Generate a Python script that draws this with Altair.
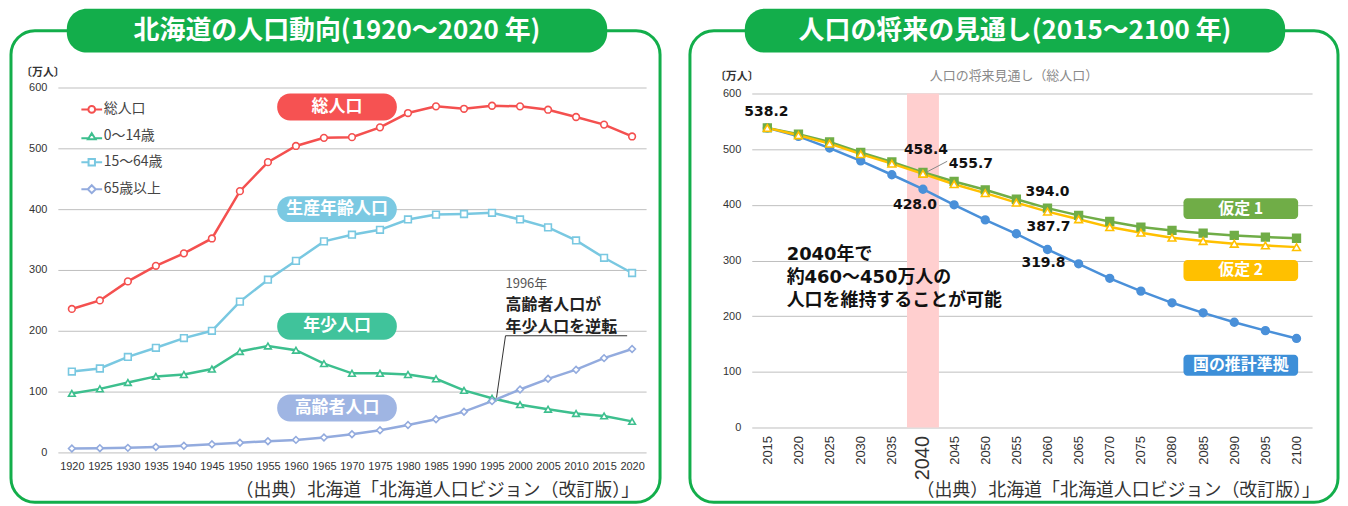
import altair as alt
import pandas as pd

CJK = "Noto Sans CJK JP"
NUM = "Liberation Sans"
NARROW = "Liberation Sans Narrow, Liberation Sans"
BOLDNUM = "DejaVu Sans, Noto Sans CJK JP"
GREEN = "#13ae4b"

# ---------------- left chart data ----------------
years_l = [1920, 1925, 1930, 1935, 1940, 1945, 1950, 1955, 1960, 1965, 1970,
           1975, 1980, 1985, 1990, 1995, 2000, 2005, 2010, 2015, 2020]
series_l = ["総人口", "0～14歳", "15～64歳", "65歳以上"]
total = [235.9, 249.9, 281.2, 306.8, 327.3, 351.8, 429.6, 477.3, 503.9, 517.2, 518.4,
         534.5, 558.0, 569.0, 565.0, 570.0, 569.0, 563.5, 551.5, 539.0, 519.5]
age0_14 = [97, 104.5, 115, 125, 128, 137, 166, 175, 168, 146, 130,
           130, 128, 121, 102, 89, 78.5, 71, 64, 60, 51]
age15_64 = [133, 138, 157, 172, 188, 200, 248, 284, 315, 347, 358,
            366, 383, 391, 392, 394, 383, 370, 348.5, 320, 295]
age65 = [6.5, 7, 7.5, 9, 11, 13.5, 16, 18.5, 20.6, 24.5, 30,
         36.4, 45, 54.4, 67, 84.3, 103.4, 121, 136, 155, 170]
colors_l = ["#f4504f", "#3dbf8e", "#79c8e1", "#93abde"]
pill_colors_l = ["#f65252", "#7bc9e2", "#40c39b", "#9fb5e3"]
pill_names_l = ["総人口", "生産年齢人口", "年少人口", "高齢者人口"]

# ---------------- right chart data ----------------
years_r = [2015, 2020, 2025, 2030, 2035, 2040, 2045, 2050, 2055, 2060,
           2065, 2070, 2075, 2080, 2085, 2090, 2095, 2100]
series_r = ["国の推計準拠", "仮定1", "仮定2"]
national = [538.2, 523, 502, 479, 454, 428.0, 400, 373, 348, 319.8,
            294, 268, 245, 224, 206, 189, 174, 160]
case1 = [538.2, 527, 513, 494, 477, 458.4, 442, 427, 410, 394.0,
         381, 370, 360, 354, 349, 345, 342, 340]
case2 = [538.2, 525, 510, 491, 474, 455.7, 437, 421, 404, 387.7,
         374, 360, 350, 341, 335, 330, 327, 324]
colors_r = ["#4a90d9", "#70ad47", "#ffc000"]
pill_names_r = ["仮定 1", "仮定 2", "国の推計準拠"]
pill_colors_r = ["#70ad47", "#ffc000", "#3d8fd8"]

rows = []
for name, vals in zip(series_l, [total, age0_14, age15_64, age65]):
    for yr, v in zip(years_l, vals):
        rows.append({"year": yr, "series": name, "value": v})
df_l = pd.DataFrame(rows)

rows = []
for name, vals in zip(series_r, [national, case1, case2]):
    for yr, v in zip(years_r, vals):
        rows.append({"year": yr, "series": name, "value": v})
df_r = pd.DataFrame(rows)

one = pd.DataFrame({"k": [0]})


def rect(x, x2, y, y2, **kw):
    return alt.Chart(one).mark_rect(**kw).encode(
        x=alt.value(x), x2=alt.value(x2), y=alt.value(y), y2=alt.value(y2))


def text(t, x, y, **kw):
    return alt.Chart(one).mark_text(text=t, **kw).encode(x=alt.value(x), y=alt.value(y))


def seg(x, y, x2, y2, **kw):
    return alt.Chart(one).mark_rule(**kw).encode(
        x=alt.value(x), y=alt.value(y), x2=alt.value(x2), y2=alt.value(y2))


# ================= LEFT =================
WL, HL = 590, 366
x_l = alt.X("year:O", scale=alt.Scale(type="point", padding=0.5),
            axis=alt.Axis(title=None, labelAngle=0, ticks=False, domain=False, grid=False,
                          labelFont=NARROW, labelFontSize=11, labelColor="#333",
                          labelPadding=8))
y_l = alt.Y("value:Q", scale=alt.Scale(domain=[0, 600], nice=False),
            axis=alt.Axis(title=None, values=[0, 100, 200, 300, 400, 500, 600],
                          ticks=False, domain=False, grid=True, gridColor="#bfbfbf",
                          labelFont=NUM, labelFontSize=11, labelColor="#333",
                          labelPadding=11))

stroke_scale_l = alt.Scale(domain=series_l, range=colors_l)
legend_paths = [
    "M-2.6,0H-0.85M0.85,0H2.6M0.85,0A0.85,0.85,0,1,1,-0.85,0A0.85,0.85,0,1,1,0.85,0Z",
    "M-2.6,0.45H-0.95M0.95,0.45H2.6M0,-0.8L0.95,0.75L-0.95,0.75Z",
    "M-2.6,0H-0.8M0.8,0H2.6M-0.8,-0.8H0.8V0.8H-0.8Z",
    "M-2.6,0H-1M1,0H2.6M0,-1L1,0L0,1L-1,0Z",
]

frame_l = rect(-47, 604, -57, 416, fill="transparent", stroke=GREEN, strokeWidth=3, cornerRadius=24)
pill_l = rect(9, 551, -79, -35, fill=GREEN, cornerRadius=20)
title_l = text("北海道の人口動向(1920～2020 年)", 280, -57, font=CJK, fontSize=26,
               fontWeight="bold", color="white", align="center", baseline="middle")
unit_l = text("〔万人〕", -15, -15, font=CJK, fontSize=11, fontWeight="bold",
              color="#333", align="center", baseline="middle")

lines_l = alt.Chart(df_l).mark_line(strokeWidth=2.5).encode(
    x=x_l, y=y_l, stroke=alt.Stroke("series:N", scale=stroke_scale_l, legend=None))
points_l = alt.Chart(df_l).mark_point(filled=True, fill="white", size=45, strokeWidth=1.6,
                                      opacity=1).encode(
    x=x_l, y=y_l,
    stroke=alt.Stroke("series:N", scale=stroke_scale_l, legend=None),
    shape=alt.Shape("series:N", scale=alt.Scale(domain=series_l,
                                                range=["circle", "triangle-up", "square", "diamond"]),
                    legend=None))
leg = alt.Legend(title=None, orient="none", legendX=27, legendY=15, labelFont=CJK,
                 labelFontSize=14, labelColor="#444", symbolSize=64, symbolStrokeWidth=2,
                 rowPadding=11, labelOffset=5, padding=0, symbolOpacity=1)
legend_l = alt.Chart(df_l).mark_point(opacity=0, size=10).encode(
    x=x_l, y=y_l,
    stroke=alt.Stroke("series:N", scale=stroke_scale_l, legend=leg),
    shape=alt.Shape("series:N", scale=alt.Scale(domain=series_l, range=legend_paths), legend=leg))

pill_y_l = [(6, 33), (109, 135), (226, 253), (308, 335)]
pills_l = []
for name, col, (a, b) in zip(pill_names_l, pill_colors_l, pill_y_l):
    pills_l.append(rect(220, 340, a, b, fill=col, cornerRadius=13))
    pills_l.append(text(name, 280, (a + b) / 2, font=CJK, fontSize=17, fontWeight="bold",
                        color="white", align="center", baseline="middle"))

ann_l = [
    text("1996年", 449, 197, font=CJK, fontSize=13, color="#555", align="left", baseline="middle"),
    text("高齢者人口が", 449, 218, font=CJK, fontSize=16, fontWeight="bold", color="#222",
         align="left", baseline="middle"),
    text("年少人口を逆転", 449, 240, font=CJK, fontSize=16, fontWeight="bold", color="#222",
         align="left", baseline="middle"),
    seg(449, 249, 571, 249, color="#333", strokeWidth=1),
    seg(449, 249, 440, 311, color="#333", strokeWidth=1),
]
src_l = text("（出典）北海道「北海道人口ビジョン（改訂版）」", 583, 405, font=CJK, fontSize=18,
             color="#333", align="right", baseline="middle")

left = alt.layer(frame_l, pill_l, title_l, unit_l, lines_l, points_l, legend_l,
                 *pills_l, *ann_l, src_l).resolve_scale(
    stroke="independent", shape="independent").properties(width=WL, height=HL)

# ================= RIGHT =================
# view top aligned with the left one; plot area starts 6px lower
WR, HR = 562, 341
x_r = alt.X("year:O", scale=alt.Scale(type="point", padding=0.5),
            axis=alt.Axis(title=None, labelAngle=270, ticks=False, domain=False, grid=False,
                          labelFont=NUM,
                          labelFontSize={"expr": "datum.value == 2040 ? 20 : 13"},
                          labelColor="#333", labelPadding=8))
yscale_r = alt.Scale(domain=[0, 600], nice=False, range=[HR, 6])
yaxis_r = alt.Axis(title=None, values=[0, 100, 200, 300, 400, 500, 600],
                   ticks=False, domain=False, grid=True, gridColor="#bfbfbf",
                   labelFont=NUM, labelFontSize=11, labelColor="#333",
                   labelPadding=11)
y_r = alt.Y("value:Q", scale=yscale_r, axis=yaxis_r)

frame_r = rect(-62, 588, -57, 416, fill="transparent", stroke=GREEN, strokeWidth=3, cornerRadius=24)
pill_r = rect(-7, 535, -79, -35, fill=GREEN, cornerRadius=20)
title_r = text("人口の将来の見通し(2015～2100 年)", 264, -57, font=CJK, fontSize=26,
               fontWeight="bold", color="white", align="center", baseline="middle")
unit_r = text("〔万人〕", -15, -11, font=CJK, fontSize=11, fontWeight="bold",
              color="#333", align="center", baseline="middle")
sub_r = text("人口の将来見通し（総人口）", 263, -12, font=CJK, fontSize=13, color="#8a8a8a",
             align="center", baseline="middle")

band = alt.Chart(pd.DataFrame({"year": [2040], "lo": [0], "hi": [600]})).mark_rule(
    strokeWidth=32, color="#ffcfcf", strokeCap="butt").encode(
    x=x_r, y=alt.Y("lo:Q", scale=yscale_r, axis=yaxis_r), y2="hi:Q")

stroke_scale_r = alt.Scale(domain=series_r, range=colors_r)
lines_r = alt.Chart(df_r).mark_line(strokeWidth=2.5).encode(
    x=x_r, y=y_r, stroke=alt.Stroke("series:N", scale=stroke_scale_r, legend=None))
points_r = alt.Chart(df_r).mark_point(filled=True, size=60, strokeWidth=1.6, opacity=1).encode(
    x=x_r, y=y_r,
    stroke=alt.Stroke("series:N", scale=stroke_scale_r, legend=None),
    fill=alt.Fill("series:N", scale=alt.Scale(domain=series_r,
                                              range=["#4a90d9", "#70ad47", "white"]), legend=None),
    shape=alt.Shape("series:N", scale=alt.Scale(domain=series_r,
                                                range=["circle", "square", "triangle-up"]),
                    legend=None))

lab_specs = [  # (series values, index, dx, dy)
    (national, 0, -1, -16),
    (case1, 5, 3, -22),
    (case2, 5, 48, -10),
    (national, 5, -8, 16),
    (case1, 9, 0, -16),
    (case2, 9, 1, 15),
    (national, 9, -4, 14),
]
labels_r = []
for vals, i, dx, dy in lab_specs:
    d = pd.DataFrame({"year": [years_r[i]], "value": [vals[i]]})
    labels_r.append(alt.Chart(d).mark_text(dx=dx, dy=dy, font=BOLDNUM, fontSize=14,
                                           fontWeight="bold", color="#111",
                                           align="center", baseline="middle").encode(
        x=x_r, y=y_r, text=alt.Text("value:Q", format=".1f")))
leader_r = seg(175, 85, 196, 74, color="#888", strokeWidth=1)

pill_y_r = [(111, 132), (173, 194), (268, 289)]
pills_r = []
for name, col, (a, b) in zip(pill_names_r, pill_colors_r, pill_y_r):
    pills_r.append(rect(433, 548, a, b, fill=col, cornerRadius=4))
    pills_r.append(text(name, 490.5, (a + b) / 2, font=CJK, fontSize=16, fontWeight="bold",
                        color="white", align="center", baseline="middle"))

ann_r = [
    text("2040年で", 35, 168, font=BOLDNUM, fontSize=18, fontWeight="bold", color="#111",
         align="left", baseline="middle"),
    text("約460～450万人の", 35, 191, font=BOLDNUM, fontSize=18, fontWeight="bold", color="#111",
         align="left", baseline="middle"),
    text("人口を維持することが可能", 35, 214, font=CJK, fontSize=18, fontWeight="bold",
         color="#111", align="left", baseline="middle"),
]
src_r = text("（出典）北海道「北海道人口ビジョン（改訂版）」", 570, 405, font=CJK, fontSize=18,
             color="#333", align="right", baseline="middle")

right = alt.layer(frame_r, pill_r, title_r, unit_r, sub_r, band, lines_r, points_r,
                  *labels_r, leader_r, *pills_r, *ann_r, src_r).properties(width=WR, height=HR)

chart = alt.hconcat(left, right, spacing=26).properties(
    padding={"left": 1, "top": 0, "right": 0, "bottom": 0}
).configure_view(strokeWidth=0)

chart.save("out.html", embed_options={"renderer": "svg", "actions": False})
